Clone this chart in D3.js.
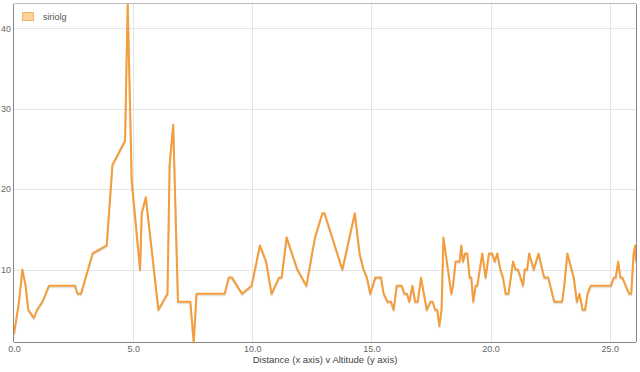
<!DOCTYPE html>
<html>
<head>
<meta charset="utf-8">
<script src="https://cdn.jsdelivr.net/npm/d3@7"></script>
<style>
  body { margin: 0; background: #fff; }
  svg { font-family: "Liberation Sans", Arial, sans-serif; }
</style>
</head>
<body>
<svg id="chart" width="640" height="372"></svg>
<script>
// distance along route (x) and altitude (y)
const distance = [
  0, 0.21, 0.35, 0.49, 0.6, 0.83, 0.97, 1.19, 1.47, 2.56, 2.67, 2.81, 3.30, 3.89,
  4.13, 4.66, 4.77, 4.94, 5.29, 5.36, 5.53, 6.06, 6.44, 6.53, 6.68, 6.88, 7.4, 7.54,
  7.66, 8.84, 9.01, 9.15, 9.57, 9.97, 10.32, 10.58, 10.81, 11.12, 11.23, 11.44, 11.89,
  12.27, 12.63, 12.94, 13.03, 13.78, 14.30, 14.5, 14.67, 14.81, 14.95, 15.16, 15.4,
  15.51, 15.68, 15.82, 15.93, 16.06, 16.27, 16.38, 16.49, 16.59, 16.72, 16.83, 16.94,
  17.08, 17.32, 17.47, 17.57, 17.67, 17.76, 17.85, 17.94, 18.02, 18.21, 18.35, 18.42,
  18.53, 18.7, 18.77, 18.84, 18.93, 19.02, 19.12, 19.19, 19.27, 19.37, 19.44, 19.65,
  19.79, 19.93, 20.07, 20.17, 20.28, 20.41, 20.52, 20.63, 20.75, 20.94, 21.05, 21.15,
  21.36, 21.43, 21.53, 21.62, 21.81, 22.01, 22.25, 22.42, 22.67, 23.0, 23.09, 23.22,
  23.49, 23.62, 23.73, 23.86, 23.96, 24.07, 24.2, 25.05, 25.17, 25.25, 25.35, 25.45,
  25.53, 25.81, 25.9, 26.0, 26.07, 26.1
]
const altitude = [
  2, 6, 10, 8, 5, 4, 5, 6, 8, 8, 7, 7, 12, 13,
  23, 26, 43, 21, 10, 17, 19, 5, 7, 23, 28, 6, 6, 1,
  7, 7, 9, 9, 7, 8, 13, 11, 7, 9, 9, 14, 10,
  8, 14, 17, 17, 10, 17, 12, 10, 9, 7, 9, 9,
  7, 6, 6, 5, 8, 8, 7, 7, 6, 8, 6, 6,
  9, 5, 6, 6, 5, 5, 3, 5, 14, 10, 7, 8,
  11, 11, 13, 11, 12, 12, 9, 9, 6, 8, 8, 12,
  9, 12, 12, 11, 12, 10, 9, 7, 7, 11, 10, 10,
  8, 10, 10, 12, 10, 12, 9, 9, 6, 6, 8, 12,
  9, 6, 7, 5, 5, 7, 8, 8, 9, 9, 11, 9,
  9, 7, 7, 12, 13, 11
]
const seriesName = 'siriolg'
const xTicks = [0, 5, 10, 15, 20, 25]
const yTicks = [10, 20, 30, 40]
const xTitle = 'Distance (x axis) v Altitude (y axis)'

const data = distance.map((d, i) => ({ x: d, y: altitude[i] }))

const width = 640
const height = 372
const margin = { top: 4, right: 4, bottom: 30, left: 14 }
const innerWidth = width - margin.left - margin.right
const innerHeight = height - margin.top - margin.bottom

const svg = d3.select('#chart')

const xScale = d3.scaleLinear()
  .domain([0, 26.1])
  .range([0, innerWidth])

const yScale = d3.scaleLinear()
  .domain([1, 43])
  .range([innerHeight, 0])

const g = svg.append('g')
  .attr('transform', `translate(${margin.left},${margin.top})`)

// grid
g.append('g')
  .selectAll('line')
  .data(yTicks)
  .join('line')
  .attr('x1', 0)
  .attr('x2', innerWidth)
  .attr('y1', d => Math.round(yScale(d)) + 0.5)
  .attr('y2', d => Math.round(yScale(d)) + 0.5)
  .attr('stroke', '#e5e5e5')

g.append('g')
  .selectAll('line')
  .data(xTicks.filter(d => d > 0))
  .join('line')
  .attr('x1', d => Math.round(xScale(d)) + 0.5)
  .attr('x2', d => Math.round(xScale(d)) + 0.5)
  .attr('y1', 0)
  .attr('y2', innerHeight)
  .attr('stroke', '#e5e5e5')

// frame
g.append('line')
  .attr('x1', 0).attr('x2', innerWidth)
  .attr('y1', -0.5).attr('y2', -0.5)
  .attr('stroke', '#bbb')
g.append('line')
  .attr('x1', innerWidth + 0.5).attr('x2', innerWidth + 0.5)
  .attr('y1', 0).attr('y2', innerHeight)
  .attr('stroke', '#888')
g.append('line')
  .attr('x1', -0.5).attr('x2', -0.5)
  .attr('y1', 0).attr('y2', innerHeight)
  .attr('stroke', '#888')
g.append('line')
  .attr('x1', 0).attr('x2', innerWidth)
  .attr('y1', innerHeight + 0.5).attr('y2', innerHeight + 0.5)
  .attr('stroke', '#888')

// axes
const xAxis = d3.axisBottom(xScale)
  .tickValues(xTicks)
  .tickFormat(d3.format('.1f'))
  .tickSize(0)
  .tickPadding(4)

const yAxis = d3.axisLeft(yScale)
  .tickValues(yTicks)
  .tickSize(0)
  .tickPadding(3)

const xg = g.append('g')
  .attr('transform', `translate(0,${innerHeight})`)
  .call(xAxis)
xg.select('.domain').remove()
xg.selectAll('text')
  .attr('fill', '#666')
  .style('font-size', '9px')

const yg = g.append('g').call(yAxis)
yg.select('.domain').remove()
yg.selectAll('text')
  .attr('fill', '#666')
  .style('font-size', '9px')

svg.append('text')
  .attr('x', margin.left + innerWidth / 2)
  .attr('y', 363)
  .attr('text-anchor', 'middle')
  .attr('fill', '#444')
  .style('font-size', '9.5px')
  .text(xTitle)

// line
const line = d3.line()
  .x(d => xScale(d.x))
  .y(d => yScale(d.y))

const clip = svg.append('clipPath').attr('id', 'plot-clip')
clip.append('rect')
  .attr('width', innerWidth)
  .attr('height', innerHeight + 2)

const lines = g.append('g').attr('clip-path', 'url(#plot-clip)')

lines.append('path')
  .datum(data)
  .attr('fill', 'none')
  .attr('stroke', '#000')
  .attr('stroke-opacity', 0.12)
  .attr('stroke-width', 2)
  .attr('stroke-linejoin', 'round')
  .attr('transform', 'translate(0,1.5)')
  .attr('d', line)

lines.append('path')
  .datum(data)
  .attr('fill', 'none')
  .attr('stroke', '#f49d3a')
  .attr('stroke-width', 2)
  .attr('stroke-linejoin', 'round')
  .attr('d', line)

// legend
const legendLayer = svg.append('g')
  .attr('transform', 'translate(22,12)')
legendLayer.append('rect')
  .attr('x', 0.5).attr('y', 0.5)
  .attr('width', 11).attr('height', 8)
  .attr('fill', '#fcd39b')
  .attr('stroke', '#f2b46a')
legendLayer.append('text')
  .attr('x', 21)
  .attr('y', 8)
  .attr('fill', '#555')
  .style('font-size', '9px')
  .text(seriesName)
</script>
</body>
</html>
